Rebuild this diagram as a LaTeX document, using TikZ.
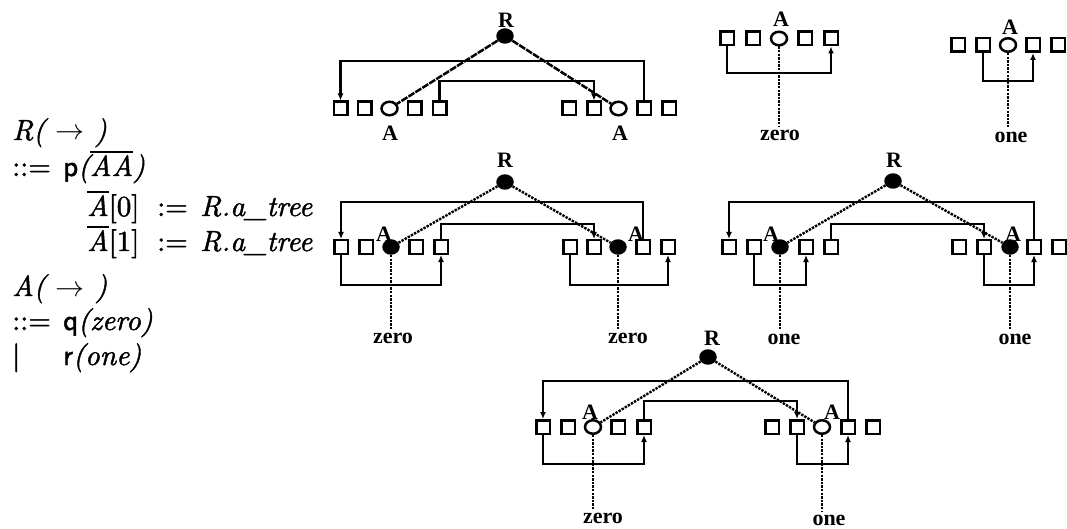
\RequirePackage{fix-cm}
\documentclass[tikz,border=0pt]{standalone}
\usepackage{fontspec}
\newfontfamily\labfont{Liberation Serif}
\newfontfamily\gr{lmroman10-regular.otf}[ItalicFont=lmroman10-italic.otf, RawFeature={embolden=1.5}]
\newfontfamily\grsf{lmsans10-regular.otf}[RawFeature={embolden=1.5}]
\usetikzlibrary{shapes.geometric,arrows.meta}

% a bar set over a piece of text
\newcommand{\barover}[1]{\leavevmode\vbox{\hrule height 1.6pt\kern 2.2pt\hbox{#1}}}

\tikzset{
  x=1pt, y=-1pt,
  wire/.style={line width=2.7pt},
  tip/.style={-{Latex[length=7pt,width=6pt]}},
  slot/.style={draw, line width=2.5pt, rectangle, minimum size=13.5pt, inner sep=0pt},
  hole/.style={draw, line width=2.5pt, ellipse, minimum width=16pt, minimum height=13.5pt, inner sep=0pt},
  full/.style={fill=black, ellipse, minimum width=17.5pt, minimum height=15.5pt, inner sep=0pt},
  lab/.style={font=\labfont\bfseries\fontsize{22}{22}\selectfont, inner sep=0pt},
  link/.style={line width=2.4pt, dash pattern=on 2.4pt off 1.2pt},
  solidlink/.style={line width=2.5pt, dash pattern=on 7pt off 1.2pt},
  gram/.style={anchor=base west, inner sep=0pt, font=\gr\fontsize{29}{35}\selectfont},
}

% five slots in a row: prefix, y, five x positions, style of the middle slot
\newcommand{\grp}[8]{%
  \node[slot] (#1a) at (#3,#2) {};
  \node[slot] (#1b) at (#4,#2) {};
  \node[#8]   (#1c) at (#5,#2) {};
  \node[slot] (#1d) at (#6,#2) {};
  \node[slot] (#1e) at (#7,#2) {};
}

\begin{document}
\begin{tikzpicture}
\useasboundingbox (0,0) rectangle (1067,529);

% ---------------- grammar ----------------
\node[gram] (g1)  at (12,140)  {\itshape R( $\rightarrow$ )};
\node[gram] (g2)  at (12,176)  {::=};
\node[gram] (g2b) at (63,176)  {{\grsf p}\itshape(\barover{AA})};
\node[gram] (g3)  at (87,216)  {\barover{\itshape A}[0]};
\node[gram] (g3b) at (157,216) {:=};
\node[gram] (g3c) at (200,216) {\itshape R.a\_tree};
\node[gram] (g4)  at (87,251)  {\barover{\itshape A}[1]};
\node[gram] (g4b) at (157,251) {:=};
\node[gram] (g4c) at (200,251) {\itshape R.a\_tree};
\node[gram] (g5)  at (12,296)  {\itshape A( $\rightarrow$ )};
\node[gram] (g6)  at (12,330)  {::=};
\node[gram] (g6b) at (63,330)  {{\grsf q}\itshape(zero)};
\node[gram] (g7)  at (12,365)  {|};
\node[gram] (g7b) at (63,365)  {{\grsf r}\itshape(one)};

% ---------------- p with two open A slots ----------------
\grp{pl}{108.5}{340.5}{364.5}{389.5}{414.5}{439.5}{hole}
\grp{pr}{108.5}{569}{594}{618.5}{644}{669}{hole}
\node[full] (pR) at (505,36) {};
\node[lab] (pRl) at (506,20) {R};
\node[lab] (pAl) at (390,133) {A};
\node[lab] (pAr) at (620,133) {A};
\coordinate (ph1) at (0,61);
\coordinate (ph2) at (0,81);
\draw[wire,tip] (prd.north) -- (prd.north |- ph1) -- (pla.north |- ph1) -- (pla.north);
\draw[wire,tip] (ple.north) -- (ple.north |- ph2) -- (prb.north |- ph2) -- (prb.north);
\draw[solidlink] (pR) -- (plc);
\draw[solidlink] (pR) -- (prc);

% ---------------- q : zero ----------------
\grp{q}{38.5}{727}{753}{779}{805}{831}{hole}
\node[lab] (qA) at (781,19) {A};
\node[lab] (qz) at (780,135) {zero};
\coordinate (qh) at (0,73);
\draw[wire,tip] (qa.south) -- (qa.south |- qh) -- (qe.south |- qh) -- (qe.south);
\draw[link, shorten >=3pt] (qc.south) -- (qc.south |- qz.north);

% ---------------- r : one ----------------
\grp{o}{45}{958}{983}{1008}{1033}{1058}{hole}
\node[lab] (oA) at (1010,27) {A};
\node[lab] (oz) at (1011,137) {one};
\coordinate (oh) at (0,81);
\draw[wire,tip] (ob.south) -- (ob.south |- oh) -- (od.south |- oh) -- (od.south);
\draw[link, shorten >=3pt] (oc.south) -- (oc.south |- oz.north);

% ---------------- tree: zero, zero ----------------
\grp{sl}{247}{341}{366}{391}{416}{441}{full}
\grp{sr}{247}{570}{594}{618}{643}{668}{full}
\node[full] (sR) at (505,182) {};
\node[lab] (sRl) at (505,160) {R};
\node[lab] (sAl) at (384,234) {A};
\node[lab] (sAr) at (636,234) {A};
\node[lab] (szl) at (393,338) {zero};
\node[lab] (szr) at (628,338) {zero};
\coordinate (sh1) at (0,202);
\coordinate (sh2) at (0,224);
\coordinate (sh3) at (0,285);
\draw[wire,tip] (srd.north) -- (srd.north |- sh1) -- (sla.north |- sh1) -- (sla.north);
\draw[wire,tip] (sle.north) -- (sle.north |- sh2) -- (srb.north |- sh2) -- (srb.north);
\draw[wire,tip] (sla.south) -- (sla.south |- sh3) -- (sle.south |- sh3) -- (sle.south);
\draw[wire,tip] (sra.south) -- (sra.south |- sh3) -- (sre.south |- sh3) -- (sre.south);
\draw[link] (sR) -- (slc);
\draw[link] (sR) -- (src);
\draw[link, shorten >=3pt] (slc.south) -- (slc.south |- szl.north);
\draw[link, shorten >=3pt] (src.south) -- (src.south |- szr.north);

% ---------------- tree: one, one ----------------
\grp{tl}{247}{729}{754}{780}{806}{831}{full}
\grp{tr}{247}{959}{984}{1010}{1034}{1059}{full}
\node[full] (tR) at (893,181) {};
\node[lab] (tRl) at (894,160) {R};
\node[lab] (tAl) at (771,234) {A};
\node[lab] (tAr) at (1013,234) {A};
\node[lab] (tzl) at (784,339) {one};
\node[lab] (tzr) at (1015,339) {one};
\draw[wire,tip] (trd.north) -- (trd.north |- sh1) -- (tla.north |- sh1) -- (tla.north);
\draw[wire,tip] (tle.north) -- (tle.north |- sh2) -- (trb.north |- sh2) -- (trb.north);
\draw[wire,tip] (tlb.south) -- (tlb.south |- sh3) -- (tld.south |- sh3) -- (tld.south);
\draw[wire,tip] (trb.south) -- (trb.south |- sh3) -- (trd.south |- sh3) -- (trd.south);
\draw[link] (tR) -- (tlc);
\draw[link] (tR) -- (trc);
\draw[link, shorten >=3pt] (tlc.south) -- (tlc.south |- tzl.north);
\draw[link, shorten >=3pt] (trc.south) -- (trc.south |- tzr.north);

% ---------------- tree: zero, one ----------------
\grp{ul}{427}{543}{568}{593}{618}{644}{hole}
\grp{ur}{427}{772}{797}{822}{848}{873}{hole}
\node[full] (uR) at (708,357) {};
\node[lab] (uRl) at (712,338) {R};
\node[lab] (uAl) at (590,412) {A};
\node[lab] (uAr) at (832,412) {A};
\node[lab] (uzl) at (603,518) {zero};
\node[lab] (uzr) at (829,520) {one};
\coordinate (uh1) at (0,381);
\coordinate (uh2) at (0,401);
\coordinate (uh3) at (0,464);
\draw[wire,tip] (urd.north) -- (urd.north |- uh1) -- (ula.north |- uh1) -- (ula.north);
\draw[wire,tip] (ule.north) -- (ule.north |- uh2) -- (urb.north |- uh2) -- (urb.north);
\draw[wire,tip] (ula.south) -- (ula.south |- uh3) -- (ule.south |- uh3) -- (ule.south);
\draw[wire,tip] (urb.south) -- (urb.south |- uh3) -- (urd.south |- uh3) -- (urd.south);
\draw[link] (uR) -- (ulc);
\draw[link] (uR) -- (urc);
\draw[link, shorten >=3pt] (ulc.south) -- (ulc.south |- uzl.north);
\draw[link, shorten >=3pt] (urc.south) -- (urc.south |- uzr.north);
\end{tikzpicture}
\end{document}
